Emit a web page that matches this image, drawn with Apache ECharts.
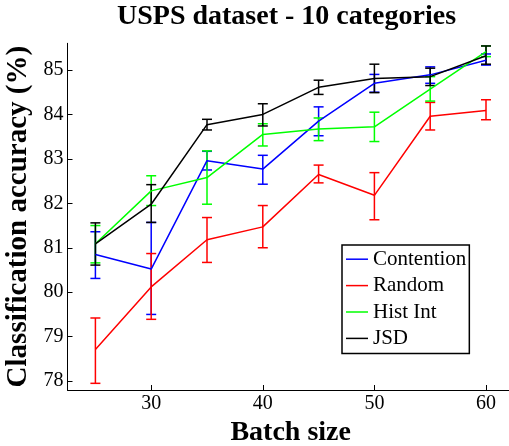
<!DOCTYPE html>
<html>
<head>
<meta charset="utf-8">
<script src="https://cdn.jsdelivr.net/npm/echarts@6/dist/echarts.min.js"></script>
<style>html,body{margin:0;padding:0;background:#fff}#c{width:509px;height:446px}</style>
</head>
<body>
<div id="c"></div>
<script>
const batchSizes = [25, 30, 35, 40, 45, 50, 55, 60];
const xTicks = [30, 40, 50, 60];
const yTicks = [78, 79, 80, 81, 82, 83, 84, 85];

const contention   = [80.85, 80.52, 82.96, 82.77, 83.85, 84.70, 84.89, 85.22];
const contentionLo = [80.31, 79.50, 82.75, 82.43, 83.52, 84.50, 84.70, 85.11];
const contentionHi = [81.36, 81.57, 83.17, 83.08, 84.17, 84.90, 85.07, 85.36];

const random   = [78.71, 80.12, 81.18, 81.47, 82.65, 82.18, 83.96, 84.09];
const randomLo = [77.95, 79.39, 80.67, 81.00, 82.46, 81.63, 83.65, 83.88];
const randomHi = [79.42, 80.87, 81.68, 81.95, 82.86, 82.69, 84.27, 84.33];

const histInt   = [81.09, 82.28, 82.58, 83.55, 83.67, 83.72, 84.57, 85.41];
const histIntLo = [80.66, 81.95, 81.98, 83.29, 83.41, 83.39, 84.30, 85.30];
const histIntHi = [81.50, 82.62, 83.18, 83.79, 83.92, 84.05, 84.85, 85.54];

const jsd   = [81.09, 81.98, 83.77, 84.00, 84.61, 84.81, 84.85, 85.32];
const jsdLo = [80.61, 81.57, 83.65, 83.74, 84.45, 84.49, 84.65, 85.13];
const jsdHi = [81.56, 82.42, 83.89, 84.24, 84.77, 85.13, 85.04, 85.54];

const seriesDefs = [
  {name: 'Contention', color: '#0000ff', mean: contention, lo: contentionLo, hi: contentionHi},
  {name: 'Random', color: '#ff0000', mean: random, lo: randomLo, hi: randomHi},
  {name: 'Hist Int', color: '#00ff00', mean: histInt, lo: histIntLo, hi: histIntHi},
  {name: 'JSD', color: '#000000', mean: jsd, lo: jsdLo, hi: jsdHi}
];

const FONT = '"Liberation Serif", "Times New Roman", serif';

function errRenderer(color) {
  return function (params, api) {
    const x = api.value(0), lo = api.value(1), hi = api.value(2);
    const a = api.coord([x, lo]), b = api.coord([x, hi]);
    const hw = 5;
    const st = {stroke: color, lineWidth: 1.5};
    return {type: 'group', children: [
      {type: 'line', shape: {x1: a[0], y1: a[1], x2: b[0], y2: b[1]}, style: st},
      {type: 'line', shape: {x1: a[0] - hw, y1: a[1], x2: a[0] + hw, y2: a[1]}, style: st},
      {type: 'line', shape: {x1: b[0] - hw, y1: b[1], x2: b[0] + hw, y2: b[1]}, style: st}
    ]};
  };
}

const series = [];
seriesDefs.forEach(function (d) {
  series.push({
    name: d.name, type: 'line', symbol: 'none', color: d.color,
    lineStyle: {color: d.color, width: 1.5},
    data: batchSizes.map(function (x, i) { return [x, d.mean[i]]; }),
    animation: false, z: 3
  });
});
seriesDefs.forEach(function (d) {
  series.push({
    name: d.name + ' err', type: 'custom',
    renderItem: errRenderer(d.color),
    encode: {x: 0, y: [1, 2]},
    data: batchSizes.map(function (x, i) { return [x, d.lo[i], d.hi[i]]; }),
    animation: false, z: 3, silent: true
  });
});

const chart = echarts.init(document.getElementById('c'), null, {renderer: 'canvas'});
chart.setOption({
  backgroundColor: '#fff',
  animation: false,
  title: {
    text: 'USPS dataset - 10 categories',
    left: 117, top: 3, padding: 0,
    textStyle: {fontFamily: FONT, fontWeight: 'bold', fontSize: 28, color: '#000'}
  },
  legend: {
    orient: 'vertical', left: 342, top: 245,
    data: seriesDefs.map(function (d) { return {name: d.name, icon: 'rect'}; }),
    itemWidth: 22, itemHeight: 1.5, itemGap: 0, itemTextGap: 2,
    padding: [1, 3, 2, 4],
    borderColor: '#000', borderWidth: 1.5, backgroundColor: '#fff',
    textStyle: {fontFamily: FONT, fontSize: 21, color: '#000', lineHeight: 26.4}
  },
  grid: {left: 67.5, top: 43.3, width: 446.4, height: 346.7, containLabel: false, outerBoundsMode: 'none'},
  xAxis: {
    type: 'value', min: 22.5, max: 62.5,
    name: 'Batch size', nameLocation: 'middle', nameGap: 26,
    nameTextStyle: {fontFamily: FONT, fontWeight: 'bold', fontSize: 28, color: '#000'},
    axisLine: {onZero: false, lineStyle: {color: '#000', width: 1}},
    axisTick: {inside: true, length: 5, customValues: xTicks, lineStyle: {color: '#000'}},
    axisLabel: {customValues: xTicks, margin: 4, fontFamily: FONT, fontSize: 20, color: '#000'},
    splitLine: {show: false}
  },
  yAxis: {
    type: 'value', min: 77.8, max: 85.6,
    name: 'Classification accuracy (%)', nameLocation: 'middle', nameGap: 31,
    nameTextStyle: {fontFamily: FONT, fontWeight: 'bold', fontSize: 29, color: '#000'},
    axisLine: {show: true, onZero: false, lineStyle: {color: '#000', width: 1}},
    axisTick: {show: true, inside: true, length: 5, customValues: yTicks, lineStyle: {color: '#000'}},
    axisLabel: {customValues: yTicks, margin: 4, fontFamily: FONT, fontSize: 20, color: '#000'},
    splitLine: {show: false}
  },
  series: series
});
</script>
</body>
</html>
